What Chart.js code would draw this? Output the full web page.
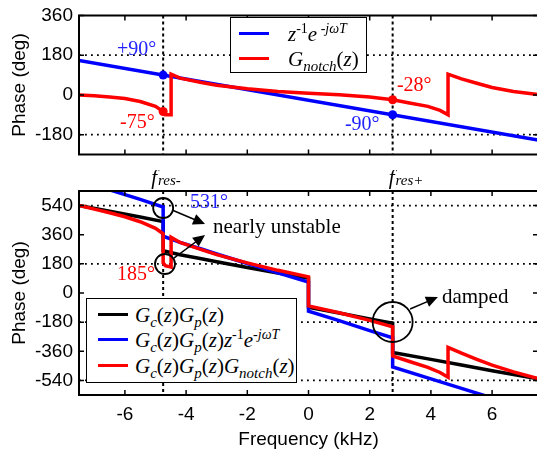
<!DOCTYPE html>
<html>
<head>
<meta charset="utf-8">
<script src="https://cdn.jsdelivr.net/npm/chart.js@4.4.0/dist/chart.umd.min.js"></script>
<style>
  body { margin: 0; width: 537px; height: 455px; overflow: hidden; background: #fff; position: relative; }
  #top-wrap { position: absolute; left: 0; top: 0; width: 545px; height: 170px; }
  #bot-wrap { position: absolute; left: 0; top: 170px; width: 545px; height: 285px; }
  .legend { position: absolute; background: #fff; border: 1.5px solid #000; box-sizing: border-box;
            font-family: "Liberation Serif", "Times New Roman", serif; }
  .legend .sw { position: absolute; height: 3px; }
  .legend .txt { position: absolute; font-size: 21px; line-height: 24px; white-space: nowrap; }
  .sup { font-size: 14px; vertical-align: 8px; line-height: 0; }
  .sub { font-size: 15px; vertical-align: -5px; line-height: 0; }
</style>
</head>
<body>
<div id="top-wrap"><canvas id="top-chart" width="545" height="170"></canvas></div>
<div id="bot-wrap"><canvas id="bot-chart" width="545" height="285"></canvas></div>

<div class="legend" style="left:230px;top:17px;width:137px;height:56px">
  <div class="sw" style="left:8px;top:14px;width:30px;background:#0000ff"></div>
  <div class="txt" style="left:57px;top:4px"><i>z</i><span class="sup">-1</span><i>e</i><span class="sup"><i> -jωT</i></span></div>
  <div class="sw" style="left:8px;top:39px;width:30px;background:#ff0000"></div>
  <div class="txt" style="left:57px;top:29px"><i>G</i><span class="sub"><i>notch</i></span>(<i>z</i>)</div>
</div>

<div class="legend" style="left:86px;top:298px;width:211px;height:85px">
  <div class="sw" style="left:11px;top:14px;width:30px;background:#000"></div>
  <div class="txt" style="left:48px;top:4px"><i>G</i><span class="sub"><i>c</i></span>(<i>z</i>)<i>G</i><span class="sub"><i>p</i></span>(<i>z</i>)</div>
  <div class="sw" style="left:11px;top:39px;width:30px;background:#0000ff"></div>
  <div class="txt" style="left:48px;top:29px"><i>G</i><span class="sub"><i>c</i></span>(<i>z</i>)<i>G</i><span class="sub"><i>p</i></span>(<i>z</i>)<i>z</i><span class="sup">-1</span><i>e</i><span class="sup"><i>-jωT</i></span></div>
  <div class="sw" style="left:11px;top:65px;width:30px;background:#ff0000"></div>
  <div class="txt" style="left:48px;top:55px"><i>G</i><span class="sub"><i>c</i></span>(<i>z</i>)<i>G</i><span class="sub"><i>p</i></span>(<i>z</i>)<i>G</i><span class="sub"><i>notch</i></span>(<i>z</i>)</div>
</div>

<script>
// axes
const xTicks = [-6, -4, -2, 0, 2, 4, 6];
const topYTicks = [-180, 0, 180, 360];
const botYTicks = [-540, -360, -180, 0, 180, 360, 540];
const topGridY = [-180, 180];
const botGridY = [-540, -180, 180, 540];
const fresX = [-4.75, 2.75];
const fresNames = ['res-', 'res+'];

// top plot: z^-1 e^-jwT and Gnotch(z)
const topBlueX = [-7.5, 7.5];
const topBlueY = [156, -204];
const topRedX = [-7.5, -7, -6.5, -6, -5.5, -5, -4.75, -4.68, -4.49, -4.49, -4.2, -3.5, -3, -2, -1, 0, 1, 2, 2.75,
                 3.3, 3.9, 4.3, 4.56, 4.56, 5, 5.5, 6, 6.7, 7.5];
const topRedY = [0, -4, -9, -16, -30, -52, -75, -90, -90, 94, 76, 56, 44, 28, 16, 8, 1, -9, -22,
                 -37, -52, -70, -90, 94, 73, 53, 34, 16, 2];
const topBlueDots = [90, -90];
const topRedDots = [-75, -22];

// bottom plot: loop phases
const blackX = [-7.5, -6.5, -5.5, -4.75, -4.75, -4.2, -3.5, -3, -2, -1, 0, 0, 1, 2, 2.75, 2.75, 4, 5, 6, 7.5];
const blackY = [540, 505, 470, 441, 261, 236, 212, 193, 158, 124, 92, -88, -123, -160, -187, -367, -410, -445, -480, -530];
const blueX = [-7.5, -6.5, -5.5, -4.75, -4.75, -4.2, -3.5, -3, -2, -1, 0, 0, 1, 2, 2.75, 2.75, 4, 5, 6];
const blueY = [696, 637, 578, 531, 351, 313, 272, 241, 182, 124, 68, -112, -171, -232, -277, -457, -530, -589, -648];
const redX = [-7.5, -7, -6.5, -6, -5.5, -5, -4.75, -4.75, -4.68, -4.49, -4.49, -4.2, -3.5, -3, -2, -1, 0, 0, 1, 2, 2.75,
              2.75, 3.3, 3.9, 4.3, 4.56, 4.56, 5, 5.5, 6, 6.7, 7.5];
const redY = [540, 518, 496, 471, 440, 399, 366, 186, 169, 160, 344, 312, 268, 237, 186, 140, 100, -80, -122, -169, -209,
              -389, -423, -459, -491, -520, -336, -372, -410, -446, -487, -528];

const BLUE = '#0000ff';
const RED = '#ff0000';
const SANS = '"Liberation Sans", Arial, sans-serif';
const SERIF = '"Liberation Serif", "Times New Roman", serif';

const topNotes = [
    { text: '+90°', f: -6.26, deg: 180, color: '#2222ff' },
    { text: '-75°', f: -6.16, deg: -151, color: RED },
    { text: '-28°', f: 2.89, deg: 20, color: RED },
    { text: '-90°', f: 1.19, deg: -160, color: '#2222ff' }
];
const botNotes = [
    { text: '531°', f: -3.87, deg: 525, color: '#2222ff', size: 20 },
    { text: '185°', f: -6.26, deg: 80, color: RED, size: 20 },
    { text: 'nearly unstable', f: -3.12, deg: 370, color: '#000', size: 21 },
    { text: 'damped', f: 4.36, deg: -62, color: '#000', size: 21 }
];
const circles = [
    { f: -4.75, deg: 525, r: 10 },
    { f: -4.69, deg: 179, r: 10 },
    { f: 2.75, deg: -179, r: 20 }
];
const arrows = [
    { f1: -4.46, d1: 513, f2: -3.38, d2: 426 },
    { f1: -4.40, d1: 216, f2: -3.38, d2: 358 },
    { f1: 3.32, d1: -99, f2: 4.23, d2: -25 }
];

function pts(xs, ys) {
    return xs.map((x, i) => ({ x, y: ys[i] }));
}

function lineSet(xs, ys, color, width) {
    return {
        data: pts(xs, ys),
        showLine: true,
        borderColor: color,
        borderWidth: width,
        pointRadius: 0,
        tension: 0,
        fill: false
    };
}

function dotSet(ys, color) {
    return {
        data: pts(fresX, ys),
        showLine: false,
        pointRadius: 4.5,
        pointBackgroundColor: color,
        pointBorderWidth: 0
    };
}

function drawArrow(ctx, x1, y1, x2, y2) {
    const ang = Math.atan2(y2 - y1, x2 - x1);
    const len = 12, half = 5.5;
    const c = Math.cos(ang), s = Math.sin(ang);
    ctx.beginPath();
    ctx.moveTo(x1, y1);
    ctx.lineTo(x2 - c * len * 0.8, y2 - s * len * 0.8);
    ctx.stroke();
    ctx.beginPath();
    ctx.moveTo(x2, y2);
    ctx.lineTo(x2 - len * c + half * s, y2 - len * s - half * c);
    ctx.lineTo(x2 - len * c - half * s, y2 - len * s + half * c);
    ctx.closePath();
    ctx.fill();
}

function drawNotes(ctx, x, y, notes, size) {
    ctx.textAlign = 'left';
    ctx.textBaseline = 'alphabetic';
    notes.forEach(n => {
        ctx.font = `${n.size || size}px ${SERIF}`;
        ctx.fillStyle = n.color;
        ctx.fillText(n.text, x.getPixelForValue(n.f), y.getPixelForValue(n.deg));
    });
}

function framePlugin(gridY, yTicks, extra) {
    return {
        id: 'frame',
        beforeDatasetsDraw(chart) {
            const { ctx, chartArea: a, scales: { x, y } } = chart;
            ctx.save();
            ctx.strokeStyle = '#000';
            ctx.lineWidth = 1.8;
            ctx.setLineDash([1.8, 4.2]);
            ctx.beginPath();
            gridY.forEach(v => {
                const py = y.getPixelForValue(v);
                ctx.moveTo(a.left, py);
                ctx.lineTo(a.right, py);
            });
            ctx.stroke();
            ctx.lineWidth = 2;
            ctx.setLineDash([3, 3]);
            ctx.beginPath();
            fresX.forEach(v => {
                const px = x.getPixelForValue(v);
                ctx.moveTo(px, a.top);
                ctx.lineTo(px, a.bottom);
            });
            ctx.stroke();
            ctx.restore();
        },
        afterDatasetsDraw(chart) {
            const { ctx, chartArea: a, scales: { x, y } } = chart;
            ctx.save();
            ctx.strokeStyle = '#000';
            ctx.lineWidth = 2;
            ctx.strokeRect(a.left, a.top, a.right - a.left, a.bottom - a.top);
            ctx.lineWidth = 1.5;
            ctx.beginPath();
            xTicks.forEach(v => {
                const px = x.getPixelForValue(v);
                ctx.moveTo(px, a.top); ctx.lineTo(px, a.top + 5);
                ctx.moveTo(px, a.bottom); ctx.lineTo(px, a.bottom - 5);
            });
            yTicks.forEach(v => {
                const py = y.getPixelForValue(v);
                ctx.moveTo(a.left, py); ctx.lineTo(a.left + 5, py);
                ctx.moveTo(a.right, py); ctx.lineTo(a.right - 5, py);
            });
            ctx.stroke();
            if (extra) extra(ctx, a, x, y);
            ctx.restore();
        }
    };
}

function yScale(min, max, ticks) {
    return {
        min, max,
        afterBuildTicks: s => { s.ticks = ticks.map(v => ({ value: v })); },
        afterFit: s => { s.width = 79; },
        grid: { display: false, drawTicks: false },
        border: { display: false },
        ticks: { color: '#000', padding: 6, font: { family: SANS, size: 19, lineHeight: 1 } },
        title: { display: true, text: 'Phase (deg)', color: '#000', padding: { top: 8, bottom: 0 },
                 font: { family: SANS, size: 19 } }
    };
}

const common = {
    responsive: false,
    animation: false,
    devicePixelRatio: 1,
    events: [],
    plugins: { legend: { display: false }, tooltip: { enabled: false } }
};

new Chart(document.getElementById('top-chart'), {
    type: 'scatter',
    data: {
        datasets: [
            dotSet(topRedDots, RED),
            dotSet(topBlueDots, BLUE),
            lineSet(topRedX, topRedY, RED, 3.5),
            lineSet(topBlueX, topBlueY, BLUE, 3.5)
        ]
    },
    options: {
        ...common,
        layout: { padding: { top: 10, right: 7, bottom: 6, left: 0 } },
        scales: {
            x: { type: 'linear', min: -7.5, max: 7.5, display: false },
            y: yScale(-270, 360, topYTicks)
        }
    },
    plugins: [framePlugin(topGridY, topYTicks, (ctx, a, x, y) => {
        drawNotes(ctx, x, y, topNotes, 20);
    })]
});

new Chart(document.getElementById('bot-chart'), {
    type: 'scatter',
    data: {
        datasets: [
            lineSet(redX, redY, RED, 3.5),
            lineSet(blueX, blueY, BLUE, 3.5),
            lineSet(blackX, blackY, '#000', 3.5)
        ]
    },
    options: {
        ...common,
        layout: { padding: { top: 21, right: 7, bottom: 0, left: 0 } },
        scales: {
            x: {
                type: 'linear', min: -7.5, max: 7.5,
                afterBuildTicks: s => { s.ticks = xTicks.map(v => ({ value: v })); },
                afterFit: s => { s.height = 60; },
                grid: { display: false, drawTicks: false },
                border: { display: false },
                ticks: { color: '#000', padding: 10, maxRotation: 0, font: { family: SANS, size: 19, lineHeight: 1 } },
                title: { display: true, text: 'Frequency (kHz)', color: '#000', padding: { top: 0, bottom: 4 },
                         font: { family: SANS, size: 19 } }
            },
            y: yScale(-630, 630, botYTicks)
        }
    },
    plugins: [framePlugin(botGridY, botYTicks, (ctx, a, x, y) => {
        // f_res labels above the plot
        const dx = [-12, -4];
        fresX.forEach((v, i) => {
            const px = x.getPixelForValue(v) + dx[i];
            ctx.fillStyle = '#000';
            ctx.textAlign = 'left';
            ctx.textBaseline = 'alphabetic';
            ctx.font = `italic 21px ${SERIF}`;
            ctx.fillText('f', px, a.top - 7);
            const w = ctx.measureText('f').width;
            ctx.font = `italic 15px ${SERIF}`;
            ctx.fillText(fresNames[i], px + w + 1, a.top - 6);
        });
        ctx.strokeStyle = '#000';
        ctx.fillStyle = '#000';
        ctx.lineWidth = 1.8;
        circles.forEach(c => {
            ctx.beginPath();
            ctx.arc(x.getPixelForValue(c.f), y.getPixelForValue(c.deg), c.r, 0, Math.PI * 2);
            ctx.stroke();
        });
        ctx.lineWidth = 1.5;
        arrows.forEach(r => {
            drawArrow(ctx, x.getPixelForValue(r.f1), y.getPixelForValue(r.d1),
                      x.getPixelForValue(r.f2), y.getPixelForValue(r.d2));
        });
        drawNotes(ctx, x, y, botNotes, 20);
    })]
});
</script>
</body>
</html>
